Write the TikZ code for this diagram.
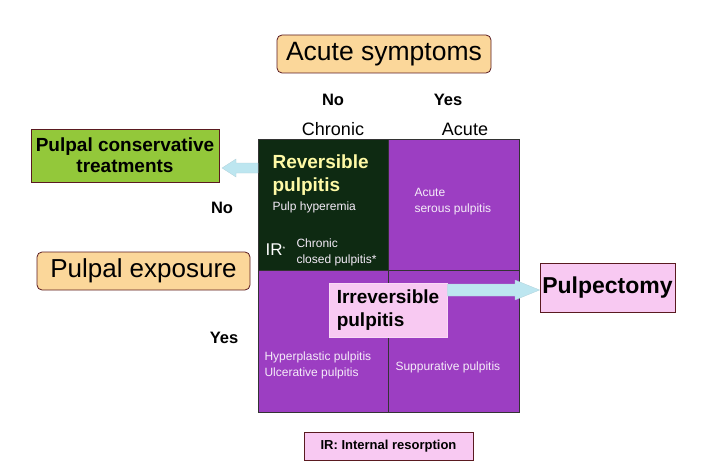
\documentclass[tikz,border=0pt]{standalone}
\usepackage{fontspec}
\setmainfont{Liberation Sans}
\usetikzlibrary{shapes.arrows}
\definecolor{dgreen}{HTML}{0E2A12}
\definecolor{purp}{HTML}{9C3EC2}
\definecolor{peach}{HTML}{FBD79A}
\definecolor{lgreen}{HTML}{93C83A}
\definecolor{pinkb}{HTML}{F8C9F2}
\definecolor{arr}{HTML}{BDE6F0}
\definecolor{bord}{HTML}{5A1A20}
\begin{document}
\begin{tikzpicture}[x=1pt,y=-1pt,
 cell/.style={draw=black!80,line width=0.8pt},
 lab/.style={font=\fontsize{16.5}{19}\selectfont\bfseries},
 hdr/.style={font=\fontsize{18}{20}\selectfont},
 small/.style={text=white!90!purp,font=\fontsize{12}{16}\selectfont,align=left,anchor=west},
 pbox/.style={draw=bord,line width=0.8pt,fill=pinkb,inner sep=0pt},
 bigarrow/.style={fill=arr,draw=arr!80!gray,line width=0.3pt}]
\useasboundingbox (0,0) rectangle (714,476);
% grid
\fill[dgreen] (258,139) rectangle (388,270);
\fill[purp] (388,139) rectangle (519,270);
\fill[purp] (258,270) rectangle (519,412);
\draw[cell] (258,139) rectangle (519,412);
\draw[cell] (388,139) -- (388,412);
\draw[cell] (258,270) -- (519,270);
% headers
\node[draw=bord,line width=0.8pt,fill=peach,rounded corners=5pt,minimum width=214,minimum height=38,font=\fontsize{26.5}{28}\selectfont] (as) at (384,54) {Acute symptoms};
\node[lab] (no1) at (333,100) {No};
\node[lab] (yes1) at (448,100) {Yes};
\node[hdr] (chr) at (333,129) {Chronic};
\node[hdr] (acu) at (465,129) {Acute};
\node[draw=bord,line width=0.8pt,fill=lgreen,minimum width=188,minimum height=53,align=center,font=\fontsize{19}{21}\selectfont\bfseries] (pct) at (125,155.5) {Pulpal conservative\\treatments};
\node[lab] (no2) at (222,208) {No};
\node[lab] (yes2) at (224,338) {Yes};
\node[draw=bord,line width=0.8pt,fill=peach,rounded corners=5pt,minimum width=213,minimum height=38,font=\fontsize{26}{28}\selectfont] (pe) at (143.5,271) {Pulpal exposure};
% cell texts
\node[anchor=west,text=yellow!35!white,align=left,font=\fontsize{19}{23}\selectfont\bfseries] (rp) at (269,175) {Reversible\\pulpitis};
\node[small] (ph) at (269,207) {Pulp hyperemia};
\node[anchor=west,text=white,font=\fontsize{17}{19}\selectfont] (ir) at (262,250) {IR\raisebox{4pt}{\scriptsize*}};
\node[small] (ccp) at (293,252) {Chronic\\closed pulpitis*};
\node[small] (asp) at (411,202) {Acute\\serous pulpitis};
\node[small] (hp) at (261,365) {Hyperplastic pulpitis\\Ulcerative pulpitis};
\node[small] (sp) at (392,367) {Suppurative pulpitis};
% irreversible / pulpectomy
\node[pbox,draw=pinkb!70!white,minimum width=118,minimum height=54,align=left,font=\fontsize{19}{23}\selectfont\bfseries] (irr) at (388,310) {Irreversible\\pulpitis};
\node[pbox,minimum width=135,minimum height=49,font=\fontsize{23}{26}\selectfont\bfseries] (pul) at (607.5,287.5) {Pulpectomy};
\node[pbox,minimum width=169,minimum height=28,font=\fontsize{13}{15}\selectfont\bfseries] (irb) at (388.5,446) {IR: Internal resorption};
% arrows
\draw[bigarrow] (258,163) -- (236,163) -- (236,159) -- (222,168) -- (236,177) -- (236,173) -- (258,173) -- cycle;
\draw[bigarrow] (irr.east |- 0,284) -- (515,284) -- (515,280) -- (pul.west |- 0,290) -- (515,300) -- (515,296) -- (irr.east |- 0,296) -- cycle;
\end{tikzpicture}
\end{document}
